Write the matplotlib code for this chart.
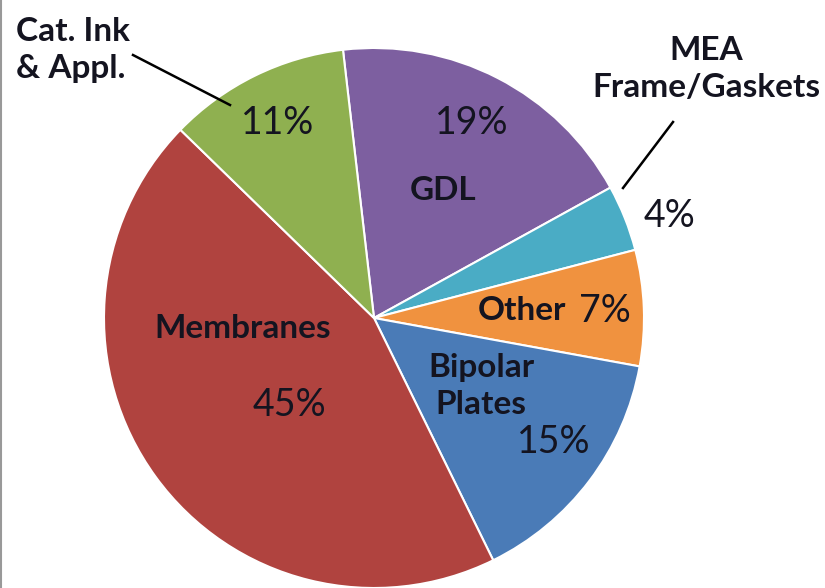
import matplotlib.pyplot as plt

# slice data, clockwise from the top
labels = ['GDL', 'MEA Frame/Gaskets', 'Other', 'Bipolar Plates', 'Membranes', 'Cat. Ink & Appl.']
shares = [19, 4, 7, 15, 45, 11]
colors = ['#7D5FA0', '#4AACC5', '#F0923F', '#4A7BB7', '#B0433F', '#8FB050']

W, H = 825, 588
fig = plt.figure(figsize=(W / 100, H / 100), dpi=100)
ax = fig.add_axes([0, 0, 1, 1])

ax.pie(shares, colors=colors, startangle=96.6, counterclock=False,
       center=(374, H - 318), radius=270, frame=True,
       wedgeprops=dict(edgecolor='white', linewidth=1.5))
ax.set_xlim(0, W)
ax.set_ylim(0, H)
ax.set_aspect('equal')
ax.axis('off')

fam = ['Lato', 'DejaVu Sans']
tc = '#141420'
def txt(x, y, s, bold=False, size=27, ha='center'):
    ax.text(x, H - y, s, ha=ha, va='center', fontsize=size, color=tc,
            fontweight='bold' if bold else 'normal', family=fam, linespacing=1.35)

pct = [f'{v}%' for v in shares]
B = 24
txt(16, 50, 'Cat. Ink\n& Appl.', bold=True, size=B, ha='left')
txt(278, 123, pct[5])
txt(472, 123, pct[0])
txt(443, 191, 'GDL', bold=True, size=B)
txt(706, 69, 'MEA\nFrame/Gaskets', bold=True, size=B)
txt(670, 216, pct[1])
txt(522, 311, 'Other', bold=True, size=B)
txt(605, 311, pct[2])
txt(481, 386, 'Bipolar\nPlates', bold=True, size=B)
txt(554, 442, pct[3])
txt(243, 329, 'Membranes', bold=True, size=B)
txt(289, 405, pct[4])

ax.plot([133, 230], [H - 55, H - 105], color='black', lw=1.8)
ax.plot([673, 623], [H - 122, H - 188], color='black', lw=1.8)
ax.plot([0.5, 0.5], [0, H], color='#999999', lw=1.5)

fig.savefig('out.png', dpi=100)
